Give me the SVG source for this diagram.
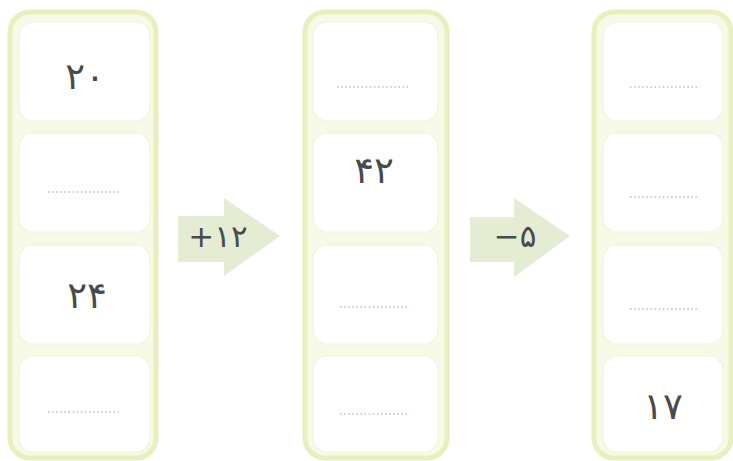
<svg xmlns="http://www.w3.org/2000/svg" width="733" height="461" viewBox="0 0 733 461">
<style>
.frame{fill:#f8f9e6;stroke:#e9f0c0;stroke-width:5}
.card{fill:#ffffff;stroke:#f0f4da;stroke-width:1.2}
.dots{stroke:#a9c2d6;stroke-width:1.3;stroke-dasharray:1.5 2.6;fill:none}
.num{font-family:"DejaVu Sans",sans-serif;font-size:37px;fill:#4a4a4a;text-anchor:middle}
.op{font-family:"DejaVu Sans",sans-serif;font-size:31px;fill:#4a4a4a;text-anchor:middle}
.arrow{fill:#e4ecd3}
</style>
<rect width="733" height="461" fill="#ffffff"/>
<g id="column1">
<rect class="frame" x="10" y="12" width="146" height="446" rx="20"/>
<rect class="card" x="19" y="22" width="131" height="99" rx="14"/>
<rect class="card" x="19" y="133" width="131" height="99" rx="14"/>
<rect class="card" x="19" y="245" width="131" height="99" rx="14"/>
<rect class="card" x="19" y="356" width="131" height="96" rx="14"/>
<text class="num" x="85" y="89">۲۰</text>
<line class="dots" x1="48" y1="192" x2="119" y2="192"/>
<text class="num" x="87" y="308">۲۴</text>
<line class="dots" x1="48" y1="412" x2="119" y2="412"/>
</g>
<g id="column2">
<rect class="frame" x="305" y="12" width="142" height="446" rx="20"/>
<rect class="card" x="313" y="22" width="125" height="99" rx="14"/>
<rect class="card" x="313" y="133" width="125" height="99" rx="14"/>
<rect class="card" x="313" y="245" width="125" height="99" rx="14"/>
<rect class="card" x="313" y="356" width="125" height="96" rx="14"/>
<line class="dots" x1="337" y1="87" x2="408" y2="87"/>
<text class="num" x="374" y="183">۴۲</text>
<line class="dots" x1="340" y1="307" x2="410" y2="307"/>
<line class="dots" x1="340" y1="414" x2="410" y2="414"/>
</g>
<g id="column3">
<rect class="frame" x="594" y="12" width="137" height="446" rx="20"/>
<rect class="card" x="603" y="22" width="120" height="99" rx="14"/>
<rect class="card" x="603" y="133" width="120" height="99" rx="14"/>
<rect class="card" x="603" y="245" width="120" height="99" rx="14"/>
<rect class="card" x="603" y="356" width="120" height="96" rx="14"/>
<line class="dots" x1="630" y1="87" x2="700" y2="87"/>
<line class="dots" x1="630" y1="197" x2="700" y2="197"/>
<line class="dots" x1="630" y1="309" x2="700" y2="309"/>
<text class="num" x="663" y="419">۱۷</text>
</g>
<g id="connectors">
<g id="arrow1">
<polygon class="arrow" points="178,216 224,216 224,198 280,236 224,276 224,262 178,262"/>
<text class="op" x="218" y="247">+۱۲</text>
</g>
<g id="arrow2">
<polygon class="arrow" points="470,217 514,217 514,198 570,236 514,277 514,262 470,262"/>
<text class="op" x="515" y="247">−۵</text>
</g>
</g>
</svg>
